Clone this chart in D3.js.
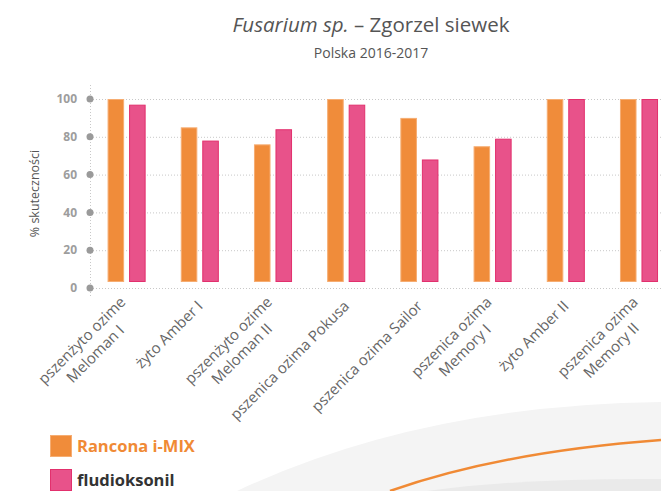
<!DOCTYPE html>
<html>
<head>
<meta charset="utf-8">
<script src="https://cdn.jsdelivr.net/npm/d3@7"></script>
<style>
  body { margin: 0; background: #fff; }
  svg { display: block; font-family: "Open Sans", sans-serif; }
</style>
</head>
<body>
<div class="chart"></div>
<script>
const categories = [
  "pszenżyto ozime\nMeloman I",
  "żyto Amber I",
  "pszenżyto ozime\nMeloman II",
  "pszenica ozima Pokusa",
  "pszenica ozima Sailor",
  "pszenica ozima\nMemory I",
  "żyto Amber II",
  "pszenica ozima\nMemory II"
];
const seriesNames = ["Rancona i-MIX", "fludioksonil"];
const ranconaValues = [100, 85, 76, 100, 90, 75, 100, 100];
const fludioksonilValues = [97, 78, 84, 97, 68, 79, 100, 100];
const yTicks = [0, 20, 40, 60, 80, 100];

const width = 661;
const height = 491;
const fills = { "Rancona i-MIX": "#f08c3a", "fludioksonil": "#e8528a" };
const strokes = { "Rancona i-MIX": "#f6ad72", "fludioksonil": "#e2306d" };

const svg = d3
  .select(".chart")
  .append("svg")
  .attr("width", width)
  .attr("height", height);

// background decoration
svg.append("path")
  .attr("d", "M237,491 Q420,405 661,402 L661,491 Z")
  .attr("fill", "#f4f4f4");
svg.append("path")
  .attr("d", "M427,491 Q520,478 661,479 L661,491 Z")
  .attr("fill", "#eaeaea");
svg.append("path")
  .attr("d", "M390,491 Q500,452 661,440")
  .attr("fill", "none")
  .attr("stroke", "#f08a35")
  .attr("stroke-width", 2.5);

// titles
const title = svg.append("text")
  .attr("x", 371)
  .attr("y", 32)
  .attr("text-anchor", "middle")
  .attr("font-size", 20.5)
  .attr("fill", "#555");
title.append("tspan").attr("font-style", "italic").text("Fusarium sp.");
title.append("tspan").text(" – Zgorzel siewek");

svg.append("text")
  .attr("x", 371)
  .attr("y", 58)
  .attr("text-anchor", "middle")
  .attr("font-size", 14)
  .attr("fill", "#555")
  .text("Polska 2016-2017");

const left = 90;
const step = 73.2;

const x0 = d3.scaleBand()
  .domain(categories)
  .range([left, left + step * categories.length])
  .paddingInner(0.48)
  .paddingOuter(0.24);

const x1 = d3.scaleBand()
  .domain(seriesNames)
  .range([0, x0.bandwidth()])
  .paddingInner(0.23);

const y = d3.scaleLinear().domain([0, 100]).range([288, 99]);
const baseGap = 6;

// grid
svg.append("g")
  .selectAll("line")
  .data(yTicks)
  .join("line")
  .attr("x1", left)
  .attr("x2", width)
  .attr("y1", d => y(d) + 0.5)
  .attr("y2", d => y(d) + 0.5)
  .attr("stroke", "#c8c8c8")
  .attr("stroke-dasharray", "1,2");

svg.append("line")
  .attr("x1", left + 0.5)
  .attr("x2", left + 0.5)
  .attr("y1", y(100) - 14)
  .attr("y2", y(0) + 9)
  .attr("stroke", "#c8c8c8")
  .attr("stroke-dasharray", "1,2");

svg.append("g")
  .selectAll("circle")
  .data(yTicks)
  .join("circle")
  .attr("cx", left)
  .attr("cy", d => y(d))
  .attr("r", 3.5)
  .attr("fill", "#9a9a9a");

svg.append("g")
  .selectAll("text")
  .data(yTicks)
  .join("text")
  .attr("x", 77)
  .attr("y", d => y(d))
  .attr("dy", "0.35em")
  .attr("text-anchor", "end")
  .attr("font-size", 12)
  .attr("font-weight", "bold")
  .attr("fill", "#9d9d9d")
  .text(d => d);

svg.append("text")
  .attr("transform", `translate(35, ${(y(0) + y(100)) / 2}) rotate(-90)`)
  .attr("text-anchor", "middle")
  .attr("dy", "0.35em")
  .attr("font-size", 12.5)
  .attr("fill", "#555")
  .text("% skuteczności");

// bars
const rows = categories.map((c, i) => ({
  category: c,
  values: [
    { name: seriesNames[0], value: ranconaValues[i] },
    { name: seriesNames[1], value: fludioksonilValues[i] }
  ]
}));

svg.append("g")
  .selectAll("g")
  .data(rows)
  .join("g")
  .attr("transform", d => `translate(${x0(d.category)}, 0)`)
  .selectAll("rect")
  .data(d => d.values)
  .join("rect")
  .attr("x", d => x1(d.name) + 0.5)
  .attr("y", d => y(d.value) + 0.5)
  .attr("width", x1.bandwidth() - 1)
  .attr("height", d => y(0) - baseGap - y(d.value) - 1)
  .attr("fill", d => fills[d.name])
  .attr("stroke", d => strokes[d.name])
  .attr("stroke-width", 1);

// x labels
const lineHeight = 19;
const labels = svg.append("g")
  .selectAll("g")
  .data(categories)
  .join("g")
  .attr("transform", d => `translate(${x0(d) + x0.bandwidth() / 2 + 4}, 307) rotate(-45)`);

labels.each(function (d) {
  const g = d3.select(this);
  const lines = d.split("\n");
  const texts = g.selectAll("text")
    .data(lines)
    .join("text")
    .attr("y", (l, i) => (i - (lines.length - 1) * 0.3) * lineHeight)
    .attr("text-anchor", "middle")
    .attr("font-size", 15)
    .attr("fill", "#666")
    .text(l => l);
  const maxW = d3.max(texts.nodes(), n => n.getComputedTextLength());
  texts.attr("x", -maxW / 2);
});

// legend
const legend = svg.append("g")
  .selectAll("g")
  .data(seriesNames)
  .join("g")
  .attr("transform", (d, i) => `translate(50, ${435 + i * 34})`);

legend.append("rect")
  .attr("x", 0.5)
  .attr("y", 0.5)
  .attr("width", 21)
  .attr("height", 21)
  .attr("fill", d => fills[d])
  .attr("stroke", d => strokes[d]);

legend.append("text")
  .attr("x", 27)
  .attr("y", 17)
  .attr("font-size", 16.5)
  .attr("font-weight", "bold")
  .attr("fill", (d, i) => i === 0 ? "#f08a35" : "#333")
  .text(d => d);
</script>
</body>
</html>
